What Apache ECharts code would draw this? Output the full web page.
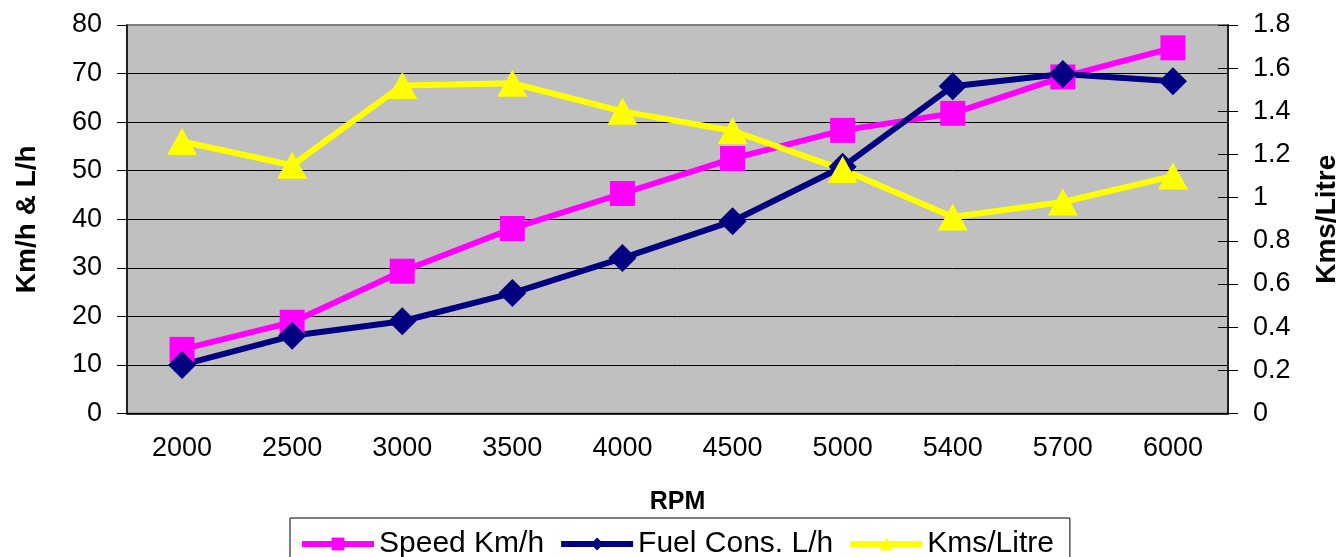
<!DOCTYPE html>
<html>
<head>
<meta charset="utf-8">
<script src="https://cdn.jsdelivr.net/npm/echarts@6/dist/echarts.min.js"></script>
<style>
html,body{margin:0;padding:0;background:#fff;overflow:hidden;}
#chart{width:1339px;height:557px;}
</style>
</head>
<body>
<div id="chart"></div>
<script>
const categories = ['2000','2500','3000','3500','4000','4500','5000','5400','5700','6000'];
const speed = [13.2, 18.8, 29.3, 38.1, 45.3, 52.5, 58.3, 61.8, 69.3, 75.3];
const fuel = [10.0, 16.0, 19.0, 24.8, 32.0, 39.6, 50.8, 67.4, 69.9, 68.4];
const kmsPerLitre = [1.26, 1.15, 1.52, 1.53, 1.40, 1.31, 1.13, 0.91, 0.98, 1.10];
const leftTicks = {min: 0, max: 80, interval: 10};
const rightTicks = {min: 0, max: 1.8, interval: 0.2};

const FONT = '"Liberation Sans", Arial, sans-serif';
const chart = echarts.init(document.getElementById('chart'));
chart.setOption({
  animation: false,
  textStyle: {fontFamily: FONT, color: '#000'},
  grid: {
    left: 127, right: 111, top: 25, bottom: 143.5,
    outerBoundsMode: 'none', containLabel: false,
    show: true, backgroundColor: '#c0c0c0', borderColor: '#808080', borderWidth: 2
  },
  legend: {
    left: 290, top: 518,
    padding: [11, 16, 20, 9],
    borderColor: '#000', borderWidth: 1,
    itemWidth: 72, itemHeight: 16, itemGap: 14,
    lineStyle: {width: 6},
    textStyle: {fontSize: 30, fontFamily: FONT, color: '#000'},
    data: ['Speed Km/h', 'Fuel Cons. L/h', 'Kms/Litre']
  },
  xAxis: [{
    type: 'category', data: categories, position: 'bottom',
    name: 'RPM', nameLocation: 'middle', nameGap: 76,
    nameTextStyle: {fontSize: 25, fontWeight: 'bold', fontFamily: FONT, color: '#000'},
    axisLine: {lineStyle: {color: '#000', width: 1.5}},
    axisTick: {length: 9, lineStyle: {color: '#000'}},
    axisLabel: {fontSize: 27, margin: 22, color: '#000', fontFamily: FONT},
    splitLine: {show: false}
  }, {
    type: 'category', data: categories, position: 'bottom',
    axisLine: {show: false},
    axisTick: {inside: true, length: 9, lineStyle: {color: '#000'}},
    axisLabel: {show: false},
    splitLine: {show: false}
  }],
  yAxis: [{
    type: 'value', position: 'left',
    min: leftTicks.min, max: leftTicks.max, interval: leftTicks.interval,
    name: 'Km/h & L/h', nameLocation: 'middle', nameGap: 86, nameRotate: 90,
    nameTextStyle: {fontSize: 28, fontWeight: 'bold', fontFamily: FONT, color: '#000'},
    axisLine: {show: true, lineStyle: {color: '#000', width: 1.5}},
    axisTick: {show: true, length: 10, lineStyle: {color: '#000'}},
    axisLabel: {fontSize: 27, margin: 25, color: '#000', fontFamily: FONT},
    splitLine: {show: true, showMaxLine: false, lineStyle: {color: '#000', width: 1}}
  }, {
    type: 'value', position: 'right',
    min: rightTicks.min, max: rightTicks.max, interval: rightTicks.interval,
    name: 'Kms/Litre', nameLocation: 'middle', nameGap: 85, nameRotate: 90,
    nameTextStyle: {fontSize: 28, fontWeight: 'bold', fontFamily: FONT, color: '#000'},
    axisLine: {show: true, lineStyle: {color: '#000', width: 1.5}},
    axisTick: {show: true, length: 10, lineStyle: {color: '#000'}},
    axisLabel: {fontSize: 27, margin: 25, color: '#000', fontFamily: FONT},
    splitLine: {show: false}
  }, {
    type: 'value', position: 'right',
    min: rightTicks.min, max: rightTicks.max, interval: rightTicks.interval,
    axisLine: {show: false},
    axisTick: {show: true, inside: true, length: 10, lineStyle: {color: '#000'}},
    axisLabel: {show: false},
    splitLine: {show: false}
  }],
  series: [{
    name: 'Speed Km/h', type: 'line', data: speed, yAxisIndex: 0,
    symbol: 'rect', symbolSize: 25,
    lineStyle: {color: '#ff00ff', width: 6},
    itemStyle: {color: '#ff00ff'}
  }, {
    name: 'Fuel Cons. L/h', type: 'line', data: fuel, yAxisIndex: 0,
    symbol: 'diamond', symbolSize: [28, 28],
    lineStyle: {color: '#000080', width: 6},
    itemStyle: {color: '#000080'}
  }, {
    name: 'Kms/Litre', type: 'line', data: kmsPerLitre, yAxisIndex: 1,
    symbol: 'triangle', symbolSize: [30, 27],
    lineStyle: {color: '#ffff00', width: 6},
    itemStyle: {color: '#ffff00'}
  }]
});
</script>
</body>
</html>
